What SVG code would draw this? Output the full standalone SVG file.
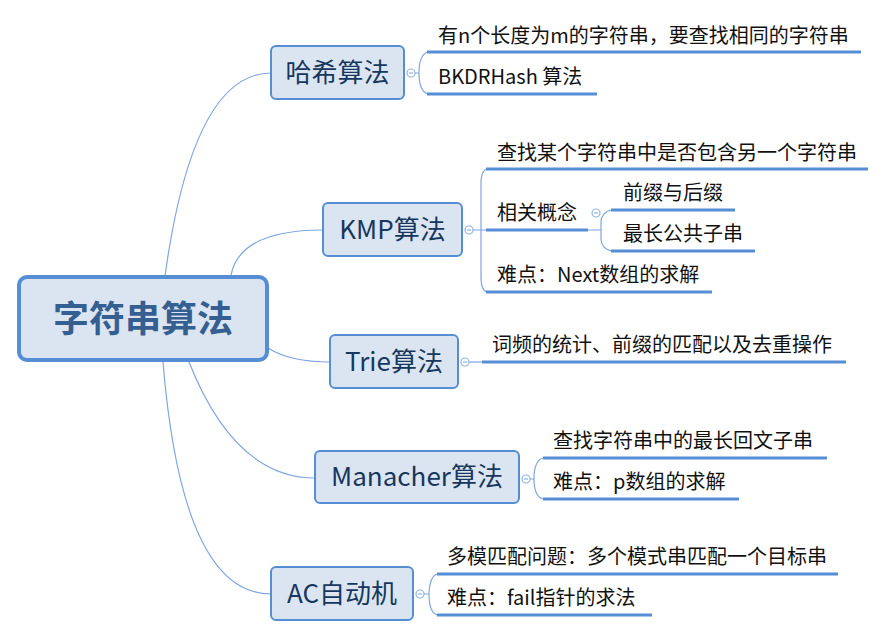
<svg xmlns="http://www.w3.org/2000/svg" width="886" height="637" viewBox="0 0 886 637">
<style>
.box{fill:#dbe5f1;stroke:#558ed5;stroke-width:2}
.root{fill:#dbe5f1;stroke:#558ed5;stroke-width:4}
.lbl{font-family:"Noto Sans CJK SC","Noto Sans",sans-serif;font-size:26px;fill:#17375e;text-anchor:middle}
.rlbl{font-family:"Noto Sans CJK SC","Noto Sans",sans-serif;font-size:36px;font-weight:bold;fill:#365f91;text-anchor:middle}
.sub{font-family:"Noto Sans CJK SC","Noto Sans",sans-serif;font-size:20px;fill:#111}
.ul{stroke:#558ed5;stroke-width:3;fill:none}
.con{stroke:#7ea6e0;stroke-width:1.2;fill:none}
.btn{fill:#fff;stroke:#8eb4e3;stroke-width:1.2}
.btnm{stroke:#8eb4e3;stroke-width:1.2}
</style>
<rect width="886" height="637" fill="#fff"/>
<g id="connectors">
<path class="con" d="M165,276 Q193,73 271,73"/>
<path class="con" d="M231,275 Q240,230 323,230"/>
<path class="con" d="M268,348 Q290,362 330,362"/>
<path class="con" d="M189,362 Q235,478 315,478"/>
<path class="con" d="M163,362 Q182,594 271,594"/>
<path class="con" d="M415,73 H419 M428,52 C421,54 419,64 419,73 C419,82 421,92 428,94"/>
<path class="con" d="M473,230 H487 M487,169 C482,170 481,176 481,184 V277 C481,285 482,291 487,292"/>
<path class="con" d="M588,230 H601 M612,210 C605,211 601,216 601,222 V239 C601,245 605,250 612,251"/>
<path class="con" d="M469,362 H482"/>
<path class="con" d="M530,479 H534 M543,458 C536,460 534,470 534,479 C534,488 536,497 543,499"/>
<path class="con" d="M424,594 H429 M437,574 C431,576 429,586 429,594 C429,603 431,613 437,615"/>
</g>
<g id="root">
<rect class="root" x="19" y="277" width="248" height="83" rx="8"/>
<text class="rlbl" x="143" y="332">字符串算法</text>
</g>
<g id="hash">
<rect class="box" x="271" y="46" width="133" height="53" rx="5"/>
<text class="lbl" x="337.5" y="82">哈希算法</text>
<circle class="btn" cx="411" cy="73" r="4"/><path class="btnm" d="M409,73 H413"/>
</g>
<g id="hash-1"><path class="ul" d="M427,52 H861"/><text class="sub" x="438" y="43">有n个长度为m的字符串，要查找相同的字符串</text></g>
<g id="hash-2"><path class="ul" d="M427,94 H597"/><text class="sub" x="438" y="84">BKDRHash 算法</text></g>
<g id="kmp">
<rect class="box" x="323" y="203" width="139" height="53" rx="5"/>
<text class="lbl" x="392.5" y="239">KMP算法</text>
<circle class="btn" cx="469" cy="230" r="4"/><path class="btnm" d="M467,230 H471"/>
</g>
<g id="kmp-1"><path class="ul" d="M486,169 H868"/><text class="sub" x="497" y="159.5">查找某个字符串中是否包含另一个字符串</text></g>
<g id="kmp-2"><path class="ul" d="M486,230 H588"/><text class="sub" x="497" y="220">相关概念</text>
<circle class="btn" cx="596" cy="213" r="4"/><path class="btnm" d="M594,213 H598"/></g>
<g id="kmp-2-1"><path class="ul" d="M611,210 H735"/><text class="sub" x="623" y="200">前缀与后缀</text></g>
<g id="kmp-2-2"><path class="ul" d="M611,251 H755"/><text class="sub" x="623" y="241">最长公共子串</text></g>
<g id="kmp-3"><path class="ul" d="M486,292 H712"/><text class="sub" x="497" y="282">难点：Next数组的求解</text></g>
<g id="trie">
<rect class="box" x="330" y="335" width="128" height="53" rx="5"/>
<text class="lbl" x="394" y="371">Trie算法</text>
<circle class="btn" cx="465" cy="362" r="4"/><path class="btnm" d="M463,362 H467"/>
</g>
<g id="trie-1"><path class="ul" d="M482,362 H846"/><text class="sub" x="492" y="352">词频的统计、前缀的匹配以及去重操作</text></g>
<g id="manacher">
<rect class="box" x="315" y="451" width="204" height="52" rx="5"/>
<text class="lbl" x="417" y="486">Manacher算法</text>
<circle class="btn" cx="526" cy="479" r="4"/><path class="btnm" d="M524,479 H528"/>
</g>
<g id="manacher-1"><path class="ul" d="M543,458 H827"/><text class="sub" x="553" y="448">查找字符串中的最长回文子串</text></g>
<g id="manacher-2"><path class="ul" d="M543,499 H739"/><text class="sub" x="553" y="489">难点：p数组的求解</text></g>
<g id="ac">
<rect class="box" x="271" y="567" width="142" height="53" rx="5"/>
<text class="lbl" x="342" y="603">AC自动机</text>
<circle class="btn" cx="420" cy="594" r="4"/><path class="btnm" d="M418,594 H422"/>
</g>
<g id="ac-1"><path class="ul" d="M437,574 H838"/><text class="sub" x="447" y="564">多模匹配问题：多个模式串匹配一个目标串</text></g>
<g id="ac-2"><path class="ul" d="M437,615 H652"/><text class="sub" x="447" y="605">难点：fail指针的求法</text></g>
</svg>
